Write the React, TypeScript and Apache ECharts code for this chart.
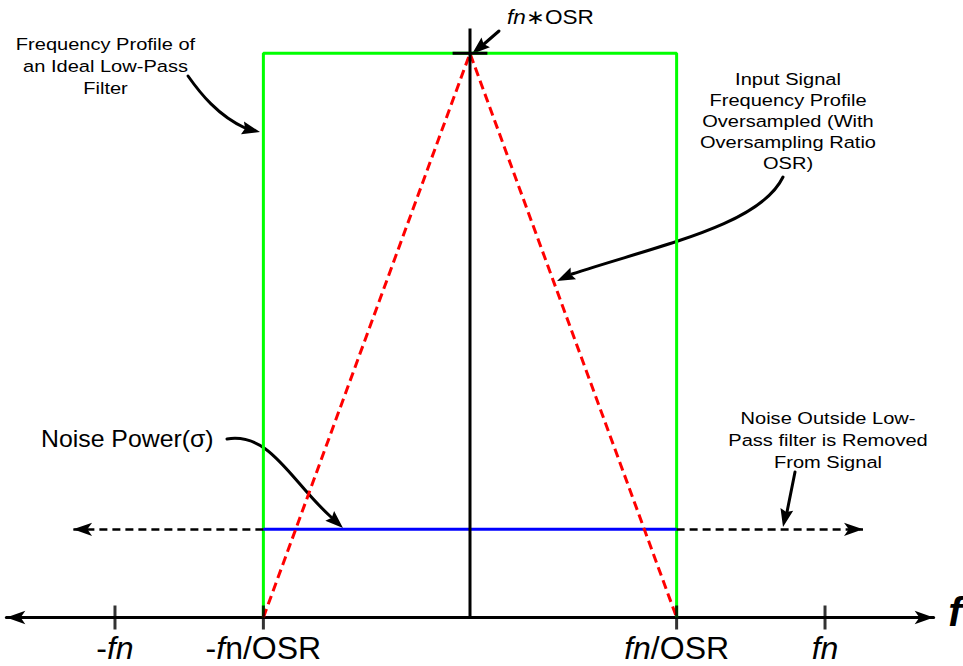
import React, { useEffect, useRef } from 'react';
import * as echarts from 'echarts';

// ---- data (units: fn = 1, filter peak = 1) ----
const FN = 1;
const FN_OSR = 0.582;
const PEAK = 1;
const NOISE = 0.1563;
const AXIS_TOP = 1.044;

const tickValues = [-FN, -FN_OSR, FN_OSR, FN];
const tickLabels = ['{n|-}{i|fn}', '{n|-}{i|f}{n|n/OSR}', '{i|fn}{n|/OSR}', '{i|fn}'];

const filterX = [-FN_OSR, -FN_OSR, FN_OSR, FN_OSR];
const filterY = [0, PEAK, PEAK, 0];
const signalX = [-FN_OSR, 0, FN_OSR];
const signalY = [0, PEAK, 0];
const noiseX = [-FN_OSR, FN_OSR];
const noiseY = [NOISE, NOISE];
const removedNoiseEnds = [-1.118, 1.107];
const peakMarkX = [-0.049, 0.049];
const vertAxisY = [0, AXIS_TOP];

const FONT = 'Liberation Sans, Arial, Helvetica, sans-serif';

function zip(xs: number[], ys: number[]) {
  return xs.map((x, i) => [x, ys[i]]);
}

function head(tx: number, ty: number, fx: number, fy: number, len = 18, hw = 6.5) {
  const dx = tx - fx;
  const dy = ty - fy;
  const d = Math.hypot(dx, dy);
  const ux = dx / d;
  const uy = dy / d;
  const bx = tx - ux * len;
  const by = ty - uy * len;
  const nx = -uy;
  const ny = ux;
  return {
    type: 'polygon',
    silent: true,
    shape: {
      points: [
        [tx, ty],
        [bx + nx * hw, by + ny * hw],
        [tx - ux * len * 0.85, ty - uy * len * 0.85],
        [bx - nx * hw, by - ny * hw],
      ],
    },
    style: { fill: '#000' },
  };
}

const curveStyle = { stroke: '#000', lineWidth: 3, fill: null, lineCap: 'round' };

export default function App() {
  const ref = useRef<HTMLDivElement>(null);
  useEffect(() => {
    if (!ref.current) return;
    const chart = echarts.init(ref.current, undefined, { renderer: 'svg' });
    const textBase = { fill: '#000', fontFamily: FONT, align: 'center', verticalAlign: 'middle' };
    const option: any = {
      animation: false,
      backgroundColor: '#fff',
      grid: {
        left: 6.35,
        right: 29.35,
        top: 8.2,
        bottom: 48.5,
        containLabel: false,
        outerBoundsMode: 'none',
      },
      xAxis: {
        type: 'value',
        min: -1.306,
        max: 1.306,
        axisLine: {
          show: true,
          onZero: false,
          symbol: ['arrow', 'arrow'],
          symbolSize: [10, 19],
          lineStyle: { color: '#000', width: 3 },
        },
        axisTick: { show: false },
        splitLine: { show: false },
        axisLabel: {
          show: true,
          customValues: tickValues,
          margin: 30,
          verticalAlign: 'middle',
          fontSize: 32,
          lineHeight: 30,
          fontFamily: FONT,
          color: '#000',
          formatter: (v: number) => {
            const i = tickValues.findIndex((t) => Math.abs(t - v) < 1e-6);
            return i >= 0 ? tickLabels[i] : '';
          },
          rich: {
            n: { fontSize: 32, lineHeight: 30, fontFamily: FONT, color: '#000' },
            i: { fontSize: 32, lineHeight: 30, fontFamily: FONT, color: '#000', fontStyle: 'italic' },
          },
        },
      },
      yAxis: { type: 'value', min: 0, max: 1.08, show: false },
      series: [
        {
          name: 'Ideal Low-Pass Filter',
          type: 'line',
          data: zip(filterX, filterY),
          symbol: 'none',
          silent: true,
          clip: false,
          z: 2,
          lineStyle: { color: '#00ff00', width: 3 },
        },
        {
          name: 'Noise Power',
          type: 'line',
          data: zip(noiseX, noiseY),
          symbol: 'none',
          silent: true,
          clip: false,
          z: 3,
          lineStyle: { color: '#0000ff', width: 3 },
          markLine: {
            silent: true,
            animation: false,
            symbol: ['none', 'arrow'],
            symbolSize: [10, 19],
            label: { show: false },
            lineStyle: { color: '#000', width: 2.5, type: [8, 5] },
            data: [
              [{ coord: [noiseX[0], NOISE] }, { coord: [removedNoiseEnds[0], NOISE] }],
              [{ coord: [noiseX[1], NOISE] }, { coord: [removedNoiseEnds[1], NOISE] }],
            ],
          },
        },
        {
          name: 'Input Signal',
          type: 'line',
          data: zip(signalX, signalY),
          symbol: 'none',
          silent: true,
          clip: false,
          z: 4,
          lineStyle: { color: '#ff0000', width: 3, type: [9, 5] },
        },
        {
          name: 'Vertical Axis',
          type: 'line',
          data: zip([0, 0], vertAxisY),
          symbol: 'none',
          silent: true,
          clip: false,
          z: 5,
          lineStyle: { color: '#000', width: 3 },
        },
        {
          name: 'Peak Mark',
          type: 'line',
          data: zip(peakMarkX, [PEAK, PEAK]),
          symbol: 'none',
          silent: true,
          clip: false,
          z: 5,
          lineStyle: { color: '#000', width: 3 },
        },
        {
          name: 'Ticks',
          type: 'scatter',
          data: tickValues.map((t) => [t, 0]),
          symbol: 'rect',
          symbolSize: [3, 24],
          silent: true,
          clip: false,
          z: 6,
          itemStyle: { color: '#000' },
        },
      ],
      graphic: [
        {
          type: 'text',
          x: 105.5,
          y: 66,
          scaleX: 1.18,
          silent: true,
          style: { ...textBase, text: 'Frequency Profile of\nan Ideal Low-Pass\nFilter', fontSize: 17, lineHeight: 21.7 },
        },
        {
          type: 'text',
          x: 788,
          y: 121,
          scaleX: 1.18,
          silent: true,
          style: {
            ...textBase,
            text: 'Input Signal\nFrequency Profile\nOversampled (With\nOversampling Ratio\nOSR)',
            fontSize: 17,
            lineHeight: 21,
          },
        },
        {
          type: 'text',
          x: 828,
          y: 440,
          scaleX: 1.18,
          silent: true,
          style: { ...textBase, text: 'Noise Outside Low-\nPass filter is Removed\nFrom Signal', fontSize: 17, lineHeight: 22 },
        },
        {
          type: 'text',
          x: 41,
          y: 439,
          scaleX: 1.08,
          silent: true,
          style: { ...textBase, align: 'left', text: 'Noise Power(σ)', fontSize: 23 },
        },
        {
          type: 'text',
          x: 507,
          y: 17,
          scaleX: 1.13,
          silent: true,
          style: {
            ...textBase,
            align: 'left',
            text: '{i|fn}{n|∗OSR}',
            fontSize: 20,
            rich: {
              i: { fontSize: 20, fontFamily: FONT, fontStyle: 'italic', fill: '#000' },
              n: { fontSize: 20, fontFamily: FONT, fill: '#000' },
            },
          },
        },
        {
          type: 'text',
          x: 955,
          y: 612,
          silent: true,
          style: { ...textBase, text: 'f', fontSize: 41, fontWeight: 'bold', fontStyle: 'italic' },
        },
        // annotation arrows
        {
          type: 'bezierCurve',
          silent: true,
          shape: { x1: 188, y1: 76, cpx1: 200, cpy1: 93, cpx2: 218, cpy2: 116, x2: 246, y2: 128.5 },
          style: curveStyle,
        },
        head(260, 132, 245, 128.5),
        {
          type: 'line',
          silent: true,
          shape: { x1: 499, y1: 31, x2: 484, y2: 44 },
          style: curveStyle,
        },
        head(472, 54, 499, 31),
        {
          type: 'bezierCurve',
          silent: true,
          shape: { x1: 783, y1: 177, cpx1: 760, cpy1: 225, cpx2: 660, cpy2: 245, x2: 572, y2: 274 },
          style: curveStyle,
        },
        head(557, 281, 572, 274),
        {
          type: 'bezierCurve',
          silent: true,
          shape: { x1: 227, y1: 439, cpx1: 270, cpy1: 432, cpx2: 290, cpy2: 480, x2: 331, y2: 517 },
          style: curveStyle,
        },
        head(343, 528, 331, 517),
        {
          type: 'line',
          silent: true,
          shape: { x1: 795, y1: 472, x2: 787, y2: 512 },
          style: curveStyle,
        },
        head(783, 527, 795, 472),
      ],
    };
    chart.setOption(option);
    return () => chart.dispose();
  }, []);
  return (
    <div
      ref={ref}
      style={{ position: 'absolute', left: 0, top: 0, width: 963, height: 666, background: '#fff' }}
    />
  );
}
